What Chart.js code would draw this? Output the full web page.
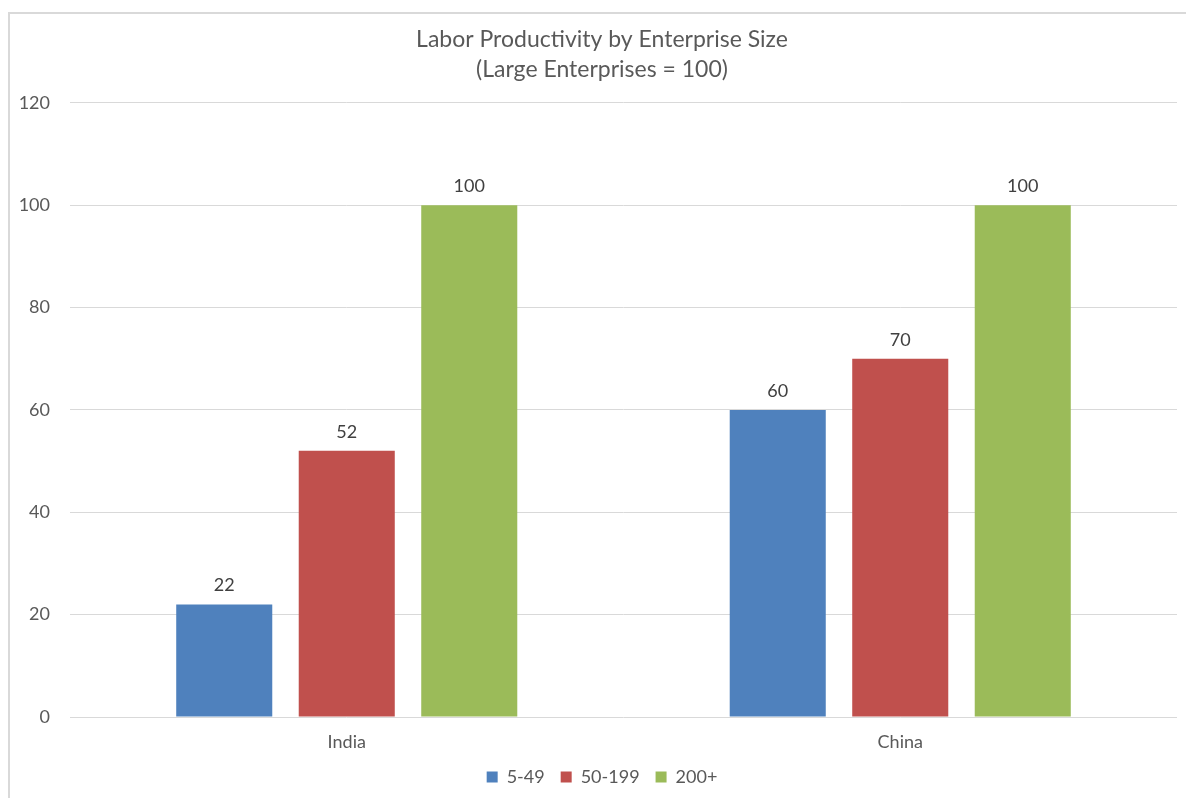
<!DOCTYPE html>
<html>
<head>
<meta charset="utf-8">
<script src="https://cdn.jsdelivr.net/npm/chart.js@4.4.1/dist/chart.umd.min.js"></script>
<style>
  html, body { margin: 0; padding: 0; background: #ffffff; overflow: hidden; }
  #frame {
    position: absolute; left: 8px; top: 12px;
    width: 1186px; height: 786px;
    border-left: 2px solid #d9d9d9; border-top: 2px solid #d9d9d9;
    box-sizing: border-box;
  }
  #chart { display: block; }
</style>
</head>
<body>
<div id="frame"><canvas id="chart" width="1184" height="784"></canvas></div>
<script>
const categories = ['India', 'China'];
const seriesNames = ['5-49', '50-199', '200+'];
const small = [22, 60];
const medium = [52, 70];
const large = [100, 100];
const yTicks = [0, 20, 40, 60, 80, 100, 120];
const titleLines = ['Labor Productivity by Enterprise Size', '(Large Enterprises = 100)'];

const FONT = 'Lato, "Open Sans", "DejaVu Sans", sans-serif';

// Writes each bar's value just above its top.
const valueLabels = {
  id: 'valueLabels',
  afterDatasetsDraw(chart) {
    const ctx = chart.ctx;
    ctx.save();
    ctx.font = '18px ' + FONT;
    ctx.fillStyle = '#404040';
    ctx.textAlign = 'center';
    ctx.textBaseline = 'bottom';
    chart.data.datasets.forEach((ds, i) => {
      chart.getDatasetMeta(i).data.forEach((bar, j) => {
        ctx.fillText(String(ds.data[j]), bar.x, bar.y - 10);
      });
    });
    ctx.restore();
  }
};

new Chart(document.getElementById('chart'), {
  type: 'bar',
  data: {
    labels: categories,
    datasets: [
      { label: seriesNames[0], data: small, backgroundColor: '#4f81bd' },
      { label: seriesNames[1], data: medium, backgroundColor: '#c0504d' },
      { label: seriesNames[2], data: large, backgroundColor: '#9bbb59' }
    ]
  },
  options: {
    responsive: false,
    animation: false,
    devicePixelRatio: 1,
    categoryPercentage: 0.664,
    barPercentage: 0.784,
    layout: { padding: { left: 0, right: 0, top: 0, bottom: 2 } },
    plugins: {
      title: {
        display: true,
        text: titleLines,
        color: '#595959',
        font: { family: FONT, size: 23, weight: 'normal', lineHeight: 1.3 },
        padding: { top: 11, bottom: 18 }
      },
      legend: {
        position: 'bottom',
        labels: {
          boxWidth: 11, boxHeight: 11, padding: 16,
          color: '#595959',
          font: { family: FONT, size: 18 }
        }
      },
      tooltip: { enabled: false }
    },
    scales: {
      x: {
        afterFit(scale) { scale.height = 35; },
        grid: { display: false, drawTicks: false },
        border: { display: false },
        ticks: { color: '#595959', font: { family: FONT, size: 18 }, padding: 14 }
      },
      y: {
        min: 0, max: 120,
        afterBuildTicks(scale) { scale.ticks = yTicks.map(v => ({ value: v })); },
        afterFit(scale) { scale.width = 60; },
        grid: { color: '#d9d9d9', lineWidth: 1, drawTicks: false },
        border: { display: false },
        ticks: { color: '#595959', font: { family: FONT, size: 18 }, padding: 20 }
      },
      // empty right-hand margin axis: keeps the plot clear of the right edge
      yRight: {
        position: 'right',
        min: 0, max: 120,
        afterFit(scale) { scale.width = 17; },
        grid: { display: false, drawTicks: false },
        border: { display: false },
        ticks: { display: false }
      }
    }
  },
  plugins: [valueLabels]
});
</script>
</body>
</html>
